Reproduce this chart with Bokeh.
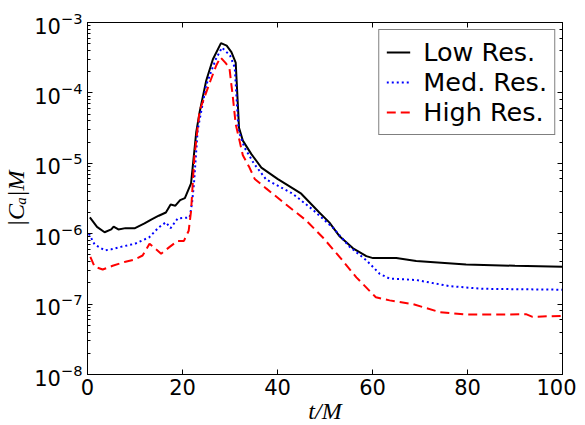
from bokeh.plotting import figure
from bokeh.models import Range1d, LogAxis, LinearAxis, Legend, LegendItem, FixedTicker, CustomJSTickFormatter
from bokeh.embed import file_html
from bokeh.resources import INLINE

t_low = [0.5, 2, 3.6, 5, 5.5, 6.5, 8, 10, 12, 13.5, 15, 16.5, 17.5, 18.5, 19.5, 20.5, 21.8, 22.9, 23.6, 25, 26.4, 28.1, 29.3, 30.3, 31.2, 31.9, 32.7, 34.5, 36.6, 40, 45, 48.8, 50.9, 53, 55.9, 58.7, 60.1, 65, 69.2, 79.7, 90, 100]
low = [1.7e-6, 1.25e-6, 1.05e-6, 1.15e-6, 1.26e-6, 1.15e-6, 1.2e-6, 1.2e-6, 1.4e-6, 1.6e-6, 1.8e-6, 2.0e-6, 2.6e-6, 2.5e-6, 3.0e-6, 3.2e-6, 5.2e-6, 2.8e-5, 5.3e-5, 1.5e-4, 3.0e-4, 5.1e-4, 4.7e-4, 3.8e-4, 2.7e-4, 3.2e-5, 2.1e-5, 1.35e-5, 8.7e-6, 6.0e-6, 3.7e-6, 2.0e-6, 1.45e-6, 9.3e-7, 6.2e-7, 4.8e-7, 4.5e-7, 4.5e-7, 4.1e-7, 3.65e-7, 3.5e-7, 3.4e-7]

t_med = [0.3, 1.5, 3.6, 5, 7, 10, 13, 15, 16.5, 17.5, 19, 21.5, 22, 22.4, 23.2, 25, 27, 28.3, 30, 31, 31.8, 33, 35, 37.6, 43.2, 47.4, 51.6, 55.2, 58.7, 61.5, 63.6, 69.2, 76.2, 83.2, 100]
med = [1.0e-6, 7.0e-7, 5.8e-7, 6.0e-7, 6.5e-7, 7.2e-7, 8.9e-7, 1.23e-6, 1.45e-6, 1.2e-6, 1.65e-6, 1.7e-6, 2.7e-6, 5e-6, 3.0e-5, 1.3e-4, 3.0e-4, 4.4e-4, 3.4e-4, 2.3e-4, 2.9e-5, 1.7e-5, 1.0e-5, 5.9e-6, 3.7e-6, 2.2e-6, 1.23e-6, 6.5e-7, 4.2e-7, 2.7e-7, 2.3e-7, 2.2e-7, 1.8e-7, 1.65e-7, 1.6e-7]

t_high = [0.6, 1.5, 3.2, 5.3, 8, 9.9, 11.6, 13.05, 15.5, 17.3, 19, 20.3, 21.3, 21.8, 22.5, 23.6, 25.9, 27.1, 28.0, 29.2, 29.9, 30.6, 31.2, 32, 32.7, 34.1, 35.2, 37.6, 41.8, 46, 49.5, 53.05, 56.6, 60.7, 63.6, 68.5, 74.1, 79.7, 86.7, 92.3, 93.7, 100]
high = [4.7e-7, 3.4e-7, 3.1e-7, 3.5e-7, 4.0e-7, 4.3e-7, 4.9e-7, 7.2e-7, 5.2e-7, 6.5e-7, 7.9e-7, 7.9e-7, 1.1e-6, 2.1e-6, 1.23e-5, 5.6e-5, 1.5e-4, 2.45e-4, 3.2e-4, 2.6e-4, 2.2e-4, 8.7e-5, 3.6e-5, 2.1e-5, 1.3e-5, 8.7e-6, 6.0e-6, 4.4e-6, 2.6e-6, 1.55e-6, 8.9e-7, 4.7e-7, 2.4e-7, 1.25e-7, 1.13e-7, 1.0e-7, 7.7e-8, 7.1e-8, 7.1e-8, 7.2e-8, 6.6e-8, 6.8e-8]

series_names = ["Low Res.", "Med. Res.", "High Res."]
x_ticks = [0, 20, 40, 60, 80, 100]

p = figure(frame_width=475, frame_height=352, y_axis_type="log",
           x_range=Range1d(0, 100), y_range=Range1d(1e-8, 1e-3),
           output_backend="svg", toolbar_location=None,
           min_border_left=80, min_border_right=14, min_border_top=22, min_border_bottom=40)
p.grid.visible = False
p.outline_line_color = "black"
p.outline_line_width = 1
p.background_fill_color = "white"
p.border_fill_color = "white"

FONT = "DejaVu Sans"

xa = p.xaxis[0]
xa.ticker = FixedTicker(ticks=x_ticks)
xa.axis_label = "t/M"
xa.axis_label_text_font = "Liberation Serif"
xa.axis_label_text_font_style = "italic"
xa.axis_label_text_font_size = "24px"
xa.axis_label_text_color = "black"
xa.axis_label_standoff = 0
xa.major_label_text_font = FONT
xa.major_label_text_font_size = "21px"
xa.major_label_text_color = "black"
xa.major_label_standoff = 4
xa.major_tick_in = 5
xa.major_tick_out = 0
xa.minor_tick_line_color = None
xa.axis_line_color = "black"

ya = p.yaxis[0]
ya.axis_label = "|Cₐ|M"
ya.axis_label_text_font = "Liberation Serif"
ya.axis_label_text_font_style = "italic"
ya.axis_label_text_font_size = "24px"
ya.axis_label_text_color = "black"
ya.axis_label_standoff = 2
ya.major_label_text_font = FONT
ya.major_label_text_font_size = "21px"
ya.major_label_text_color = "black"
ya.major_label_standoff = 5
ya.major_tick_in = 5
ya.major_tick_out = 0
ya.minor_tick_in = 3
ya.minor_tick_out = 0
ya.axis_line_color = "black"

blank = "return ''"
top = LinearAxis(ticker=FixedTicker(ticks=x_ticks), formatter=CustomJSTickFormatter(code=blank),
                 major_tick_in=5, major_tick_out=0, minor_tick_line_color=None,
                 major_label_standoff=0, axis_line_color="black")
p.add_layout(top, "above")
right = LogAxis(formatter=CustomJSTickFormatter(code=blank), major_tick_in=5, major_tick_out=0,
                minor_tick_in=3, minor_tick_out=0, major_label_standoff=0, axis_line_color="black")
p.add_layout(right, "right")

r1 = p.line(t_low, low, line_color="black", line_width=2)
r2 = p.line(t_med, med, line_color="#0000ff", line_width=2, line_dash="2 3")
r3 = p.line(t_high, high, line_color="#ff0000", line_width=2, line_dash="9 5")

legend = Legend(items=[LegendItem(label=series_names[0], renderers=[r1]),
                       LegendItem(label=series_names[1], renderers=[r2]),
                       LegendItem(label=series_names[2], renderers=[r3])],
                location="top_right", margin=7, padding=7, spacing=0,
                glyph_width=24, glyph_height=30, label_height=30, label_standoff=13,
                label_text_font=FONT, label_text_font_size="25.5px", label_text_color="black",
                border_line_color="black", border_line_width=1,
                background_fill_alpha=1.0)
p.add_layout(legend, "center")

open("out.html", "w").write(file_html(p, INLINE))
